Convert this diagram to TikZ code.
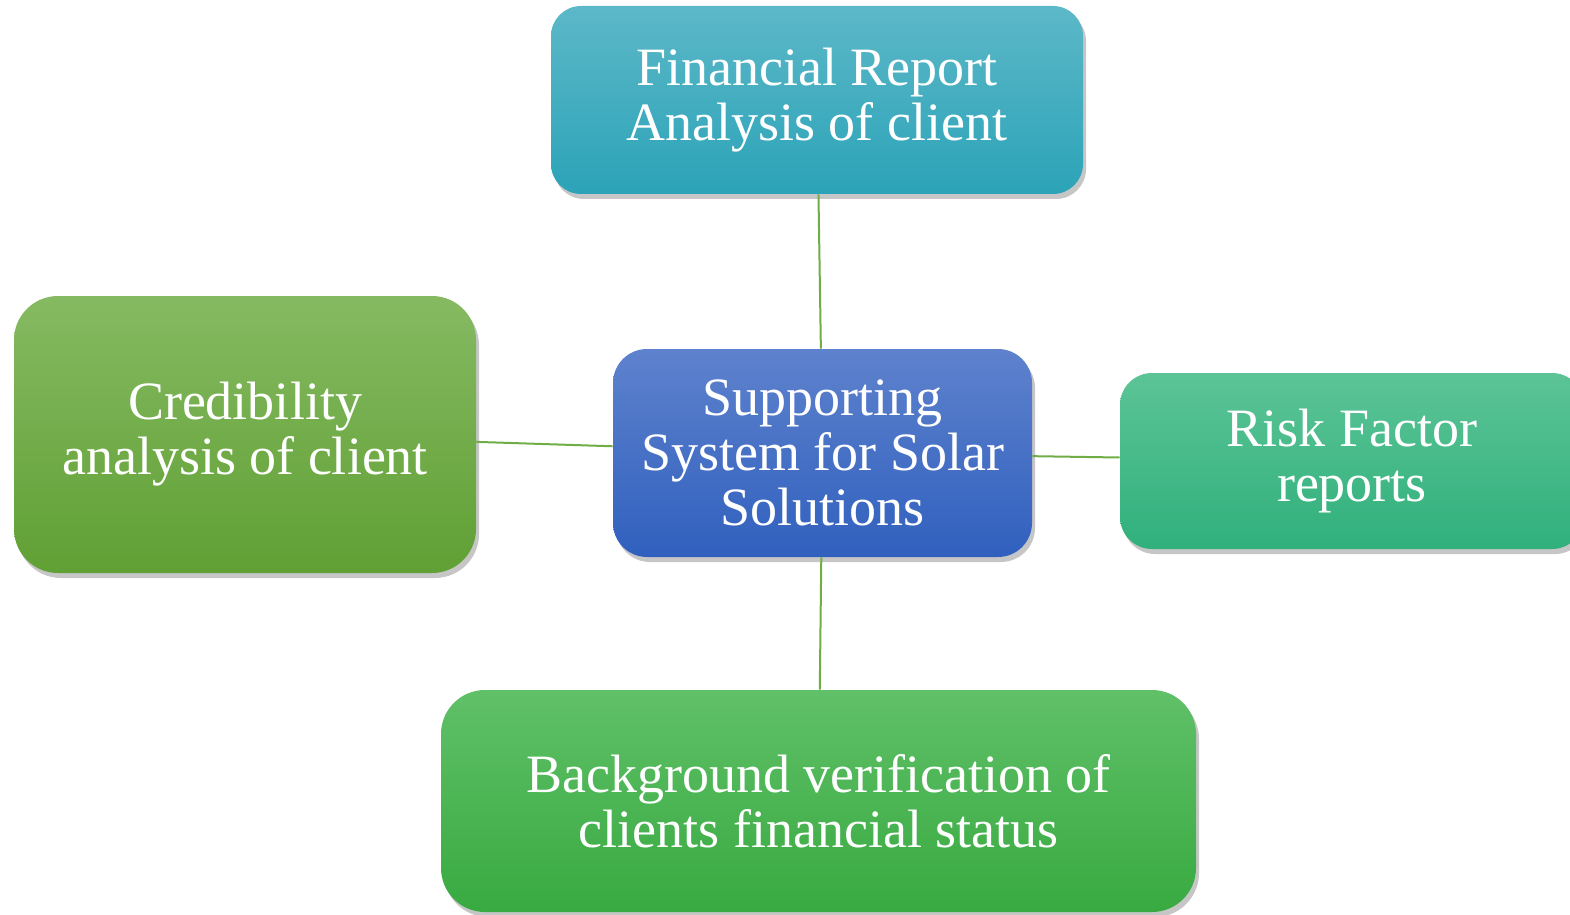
\documentclass[tikz,border=0pt]{standalone}
\usepackage{fontspec}
\setmainfont{Liberation Serif}
\usetikzlibrary{shadows}
\definecolor{linkgreen}{RGB}{112,173,71}

\begin{document}
\begin{tikzpicture}[x=0.5pt, y=-0.5pt,
    caixa/.style={inner sep=0pt, align=center, text=white, rounded corners=16pt,
      drop shadow={shadow xshift=1.5pt, shadow yshift=-2.5pt, opacity=0.45},
      font=\fontsize{27}{27.5}\selectfont},
    ligacao/.style={draw=linkgreen, line width=1pt}]
  \useasboundingbox (0,0) rectangle (1570,915);
  % Caixas
  \node[caixa, minimum width=266pt, minimum height=94pt, rounded corners=15pt,
    top color={rgb,255:red,92;green,184;blue,200}, bottom color={rgb,255:red,44;green,163;blue,184}]
    (relatorio) at (817,100) {Financial Report\\Analysis of client};
  \node[caixa, minimum width=231pt, minimum height=138.5pt, rounded corners=22pt,
    top color={rgb,255:red,134;green,186;blue,98}, bottom color={rgb,255:red,96;green,160;blue,52}]
    (credibilidade) at (245,434.5) {Credibility\\analysis of client};
  \node[caixa, minimum width=209.5pt, minimum height=104pt, rounded corners=17pt,
    top color={rgb,255:red,94;green,130;blue,205}, bottom color={rgb,255:red,48;green,96;blue,190}]
    (sistema) at (822.5,453) {Supporting\\System for Solar\\Solutions};
  \node[caixa, minimum width=232pt, minimum height=88pt, rounded corners=16pt,
    top color={rgb,255:red,92;green,196;blue,150}, bottom color={rgb,255:red,48;green,176;blue,124}]
    (risco) at (1352,461) {Risk Factor\\reports};
  \node[caixa, minimum width=377.5pt, minimum height=111pt, rounded corners=22pt,
    top color={rgb,255:red,96;green,192;blue,104}, bottom color={rgb,255:red,56;green,170;blue,64}]
    (verificacao) at (818.5,801) {Background verification of\\clients financial status};
  % Ligacoes
  \foreach \caixa in {relatorio, credibilidade, risco, verificacao}
    \draw[ligacao] (sistema) -- (\caixa);
\end{tikzpicture}
\end{document}
